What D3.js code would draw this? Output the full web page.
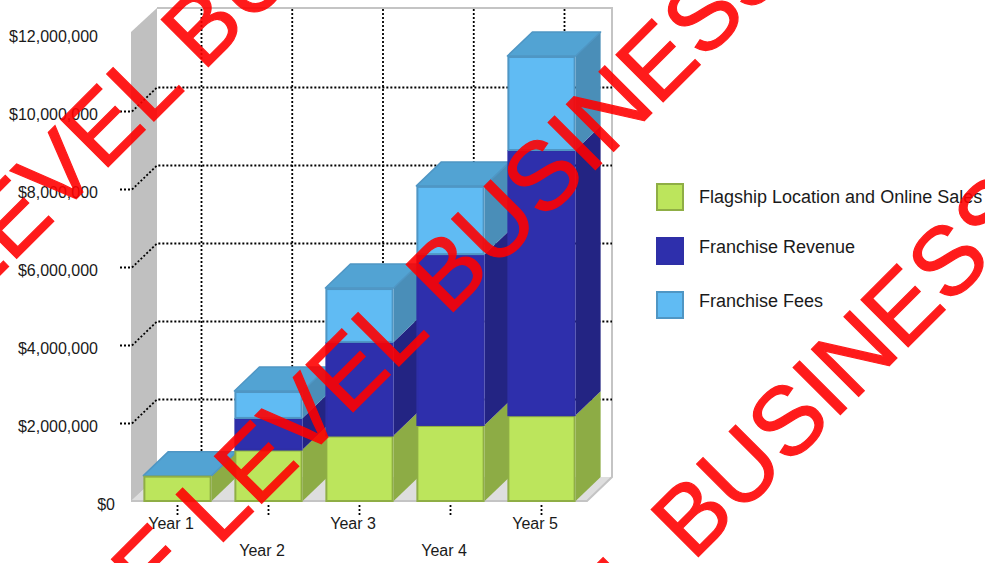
<!DOCTYPE html>
<html>
<head>
<meta charset="utf-8">
<script src="https://cdn.jsdelivr.net/npm/d3@7/dist/d3.min.js"></script>
<style>
html,body{margin:0;padding:0;background:#fff;overflow:hidden}
svg{display:block}
text{font-family:"Liberation Sans",Arial,sans-serif;fill:#1a1a1a}
</style>
</head>
<body>
<svg id="chart" width="985" height="563"></svg>
<script>
// Revenue by year, stacked by source
const years = ["Year 1", "Year 2", "Year 3", "Year 4", "Year 5"];
const flagship = [650000, 1320000, 1680000, 1950000, 2200000];
const franchiseRevenue = [0, 810000, 2400000, 4380000, 6800000];
const franchiseFees = [0, 690000, 1380000, 1750000, 2410000];
const seriesNames = ["Flagship Location and Online Sales", "Franchise Revenue", "Franchise Fees"];
const yTicks = [0, 2000000, 4000000, 6000000, 8000000, 10000000, 12000000];
const stamp = "E LEVEL BUSINESS";

const palette = [
  {front: "#bce55c", edge: "#8fae45", side: "#8dac45", top: "#a5c950"},
  {front: "#2e2fac", edge: "#2e2fa6", side: "#232483", top: "#232483"},
  {front: "#60bbf3", edge: "#4f96c4", side: "#4a8eb8", top: "#52a3d3"}
];

const svg = d3.select("#chart");
const depthX = 25, depthY = 24;
const y = d3.scaleLinear().domain([0, 12000000]).range([501, 33]);
const x = d3.scaleBand().domain(years).range([132, 587]).paddingInner(0.25).paddingOuter(0.125);

const rows = years.map((year, i) => ({
  year, flagship: flagship[i], revenue: franchiseRevenue[i], fees: franchiseFees[i]
}));
const stacked = d3.stack().keys(["flagship", "revenue", "fees"])(rows);
const poly = pts => pts.map(p => p.join(",")).join(" ");

// Chart box: left wall, floor, back wall outline
const [yBase, yTop] = y.range();
const [xLeft, xRight] = x.range();
const box = svg.append("g");
box.append("polygon").attr("fill", "#dedede")
  .attr("points", poly([[xLeft - 1, yBase], [xLeft + depthX, yBase - depthY], [xRight + depthX, yBase - depthY], [xRight, yBase]]));
box.append("polygon").attr("fill", "#c0c0c0")
  .attr("points", poly([[xLeft - 1, yTop - 1], [xLeft + depthX, yTop - depthY - 1], [xLeft + depthX, yBase - depthY], [xLeft - 1, yBase]]));
box.append("polyline").attr("fill", "none").attr("stroke", "#c4c4c4").attr("stroke-width", 2)
  .attr("points", poly([[xLeft + depthX, yTop - depthY - 1], [xRight + depthX, yTop - depthY - 1], [xRight + depthX, yBase - depthY], [xRight, yBase], [xLeft - 1, yBase]]));

// Dotted grid on the back wall, with angled leaders to the front ticks
const grid = svg.append("g").attr("fill", "none").attr("stroke", "#000")
  .attr("stroke-width", 1.8).attr("stroke-dasharray", "2 2");
yTicks.filter(v => v > 0 && v < 12000000).forEach(v => {
  grid.append("polyline").attr("points", poly([
    [xLeft - 12, y(v) + 0.5], [xLeft, y(v) + 0.5], [xLeft + depthX, y(v) - depthY + 0.5], [xRight + depthX, y(v) - depthY + 0.5]
  ]));
});
years.forEach((yr, i) => {
  const cx = x(yr) + x.bandwidth() / 2 + depthX - 1 - i * 0.25;
  grid.append("line").attr("x1", cx).attr("x2", cx).attr("y1", yTop - depthY).attr("y2", yBase - depthY);
});

// Value axis labels
const yAxis = svg.append("g").attr("transform", "translate(0,3)")
  .call(d3.axisLeft(y).tickValues(yTicks).tickSize(0).tickPadding(0)
    .tickFormat(v => "$" + d3.format(",")(v)));
yAxis.select(".domain").remove();
yAxis.selectAll("text").attr("font-size", 16)
  .attr("x", d => d === 0 ? 115 : 98).attr("text-anchor", "end")
  .style("font-family", '"Liberation Sans",Arial,sans-serif').style("fill", "#1a1a1a");

// Category axis: ticks below the floor, labels staggered on two rows
const xAxis = svg.append("g").attr("transform", `translate(0,${yBase})`)
  .call(d3.axisBottom(x).tickSize(0).tickPadding(0));
xAxis.select(".domain").remove();
xAxis.selectAll("text").attr("font-size", 16).attr("dx", -6.5)
  .attr("dy", 0).attr("y", (d, i) => i % 2 ? 55 : 28)
  .style("font-family", '"Liberation Sans",Arial,sans-serif').style("fill", "#1a1a1a");
xAxis.selectAll(".tick").append("line").attr("y1", 4).attr("y2", 16)
  .attr("stroke", "#000").attr("stroke-width", 1.8).attr("stroke-dasharray", "2 2");

// Stacked 3D columns, left to right so nearer faces overlap correctly
const bars = svg.append("g");
years.forEach((yr, i) => {
  const x0 = x(yr), x1 = x0 + x.bandwidth();
  const g = bars.append("g");
  stacked.forEach((layer, s) => {
    const [v0, v1] = layer[i];
    if (v1 <= v0) return;
    const c = palette[s];
    g.append("polygon").attr("fill", c.side).attr("points", poly([
      [x1, y(v0)], [x1 + depthX, y(v0) - depthY], [x1 + depthX, y(v1) - depthY], [x1, y(v1)]
    ]));
  });
  const total = stacked[2][i][1];
  g.append("polygon").attr("fill", palette[2].top).attr("stroke", palette[2].edge).attr("stroke-width", 1.5)
    .attr("stroke-linejoin", "round").attr("points", poly([
      [x0, y(total)], [x0 + depthX, y(total) - depthY], [x1 + depthX, y(total) - depthY], [x1, y(total)]
    ]));
  stacked.forEach((layer, s) => {
    const [v0, v1] = layer[i];
    if (v1 <= v0) return;
    const c = palette[s];
    g.append("rect").attr("x", x0 + 1).attr("y", y(v1) + 1)
      .attr("width", x.bandwidth() - 2).attr("height", y(v0) - y(v1) - 1)
      .attr("fill", c.front).attr("stroke", c.edge).attr("stroke-width", 2);
  });
});

// Legend
const legendSwatchY = [183, 237, 291];
const legendTextY = [197, 247, 301];
const legend = svg.append("g");
seriesNames.forEach((name, i) => {
  legend.append("rect").attr("x", 657).attr("y", legendSwatchY[i] + 1).attr("width", 26).attr("height", 26)
    .attr("fill", palette[i].front).attr("stroke", palette[i].edge).attr("stroke-width", 2);
  legend.append("text").attr("x", 699).attr("y", legendTextY[i]).attr("dy", "0.35em")
    .attr("font-size", 18).text(name);
});

// Diagonal red stamp across the whole page
const stampOrigins = [[-92, 367], [153, 612], [398, 857]];
const stampLayer = svg.append("g").style("opacity", 0.89);
stampOrigins.forEach(o => {
  stampLayer.append("text").attr("transform", `translate(${o[0]},${o[1]}) rotate(-45)`)
    .attr("font-size", 97).style("fill", "#ff0000")
    .style("stroke", "#ff0000").style("stroke-width", 1.2).text(stamp);
});
</script>
</body>
</html>
